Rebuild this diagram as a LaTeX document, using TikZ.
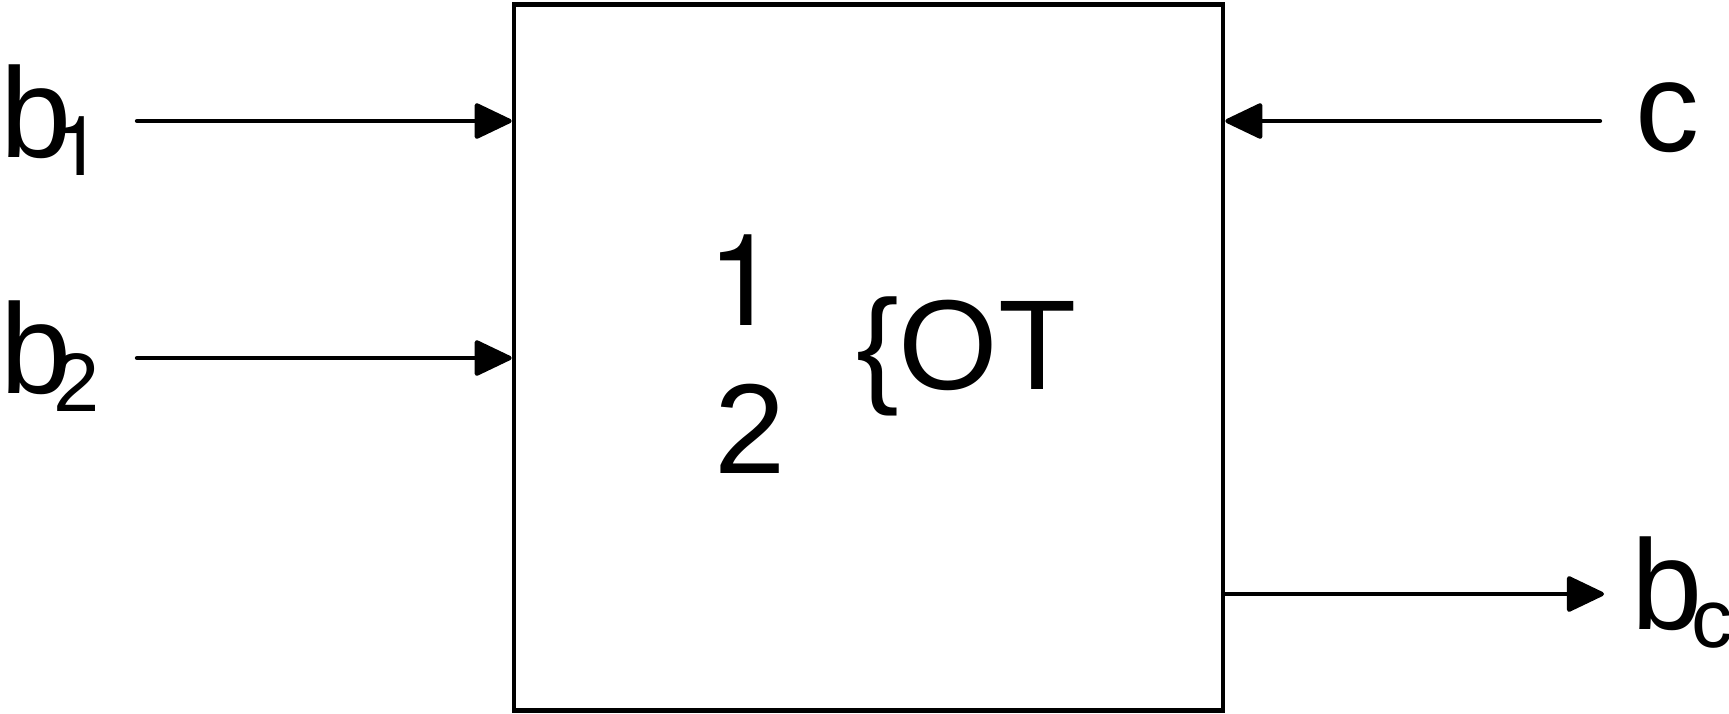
\documentclass[tikz,border=0pt]{standalone}
\usepackage{fontspec}
\setmainfont{Liberation Sans}
\newfontfamily\onefont{TeX Gyre Heros}
\usetikzlibrary{arrows.meta}
\newcommand\bigtxt{\fontsize{128}{128}\selectfont}
\newcommand\subtxt{\fontsize{83}{83}\selectfont}
\newcommand\withsub[3]{#1\kern#2\raisebox{-18pt}{\subtxt #3}}
\begin{document}
\begin{tikzpicture}[x=1pt,y=-1pt,
  lbl/.style={anchor=base west,inner sep=0pt,font=\bigtxt},
  arr/.style={line width=4.3pt,line cap=round,-{Triangle[length=40pt,width=37pt,round]}},
  blockbox/.style={draw,line width=4.6pt,inner sep=0pt,minimum width=709pt,minimum height=706pt}]
\useasboundingbox (0,0) rectangle (1729,713);
\node[blockbox] (box) at (868.5,357.5) {};
\node[lbl] (b1) at (0,157) {\withsub{b}{-16pt}{\onefont 1}};
\node[lbl] (b2) at (0,393) {\withsub{b}{-17.5pt}{2}};
\node[lbl] (c) at (1635,151) {c};
\node[lbl] (bc) at (1631,629) {\withsub{b}{-11pt}{c}};
\node[lbl] (one) at (707,325) {\onefont 1};
\node[lbl] (two) at (714,473) {2};
\node[lbl] (ot) at (856,389) {\{OT};
\coordinate (s1) at (137,121);
\coordinate (s2) at (137,358);
\coordinate (sc) at (1600,121);
\coordinate (ec) at (1604,594);
\draw[arr] (s1) -- (s1 -| box.west);
\draw[arr] (s2) -- (s2 -| box.west);
\draw[arr] (sc) -- (sc -| box.east);
\draw[arr] (ec -| box.east) -- (ec);
\end{tikzpicture}
\end{document}
